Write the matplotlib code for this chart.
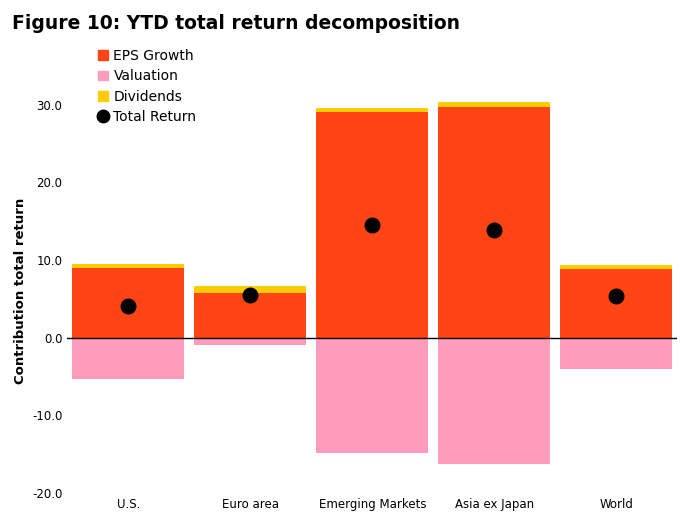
import numpy as np
import matplotlib.pyplot as plt
from matplotlib.lines import Line2D
from matplotlib.patches import Patch

regions = ['U.S.', 'Euro area', 'Emerging Markets', 'Asia ex Japan', 'World']
eps_growth = [9.0, 5.8, 29.0, 29.7, 8.8]
valuation = [-5.3, -1.0, -14.9, -16.3, -4.0]
dividends = [0.5, 0.8, 0.6, 0.7, 0.6]
total_return = [4.1, 5.5, 14.5, 13.9, 5.4]

c_eps = '#ff4513'
c_val = '#ff9bbb'
c_div = '#ffcc00'

fig = plt.figure(figsize=(6.8, 5.21), dpi=100)
ax = fig.add_axes([0.099, 0.054, 0.897, 0.775])
x = np.arange(len(regions))
w = 0.92
ax.bar(x, eps_growth, w, color=c_eps)
ax.bar(x, dividends, w, bottom=eps_growth, color=c_div)
ax.bar(x, valuation, w, color=c_val)
ax.scatter(x, total_return, s=110, color='black', zorder=5)
ax.axhline(0, color='black', lw=1)

ax.set_xlim(-0.5, 4.5)
ax.set_ylim(-20, 32)
ax.set_yticks([-20, -10, 0, 10, 20, 30])
ax.set_yticklabels([f'{v:.1f}' for v in [-20, -10, 0, 10, 20, 30]])
ax.set_xticks(x)
ax.set_xticklabels(regions)
ax.tick_params(length=0, labelsize=8.5)
for s in ax.spines.values():
    s.set_visible(False)
ax.set_ylabel('Contribution total return', fontweight='bold', fontsize=9.5)

handles = [Patch(color=c_eps, label='EPS Growth'),
           Patch(color=c_val, label='Valuation'),
           Patch(color=c_div, label='Dividends'),
           Line2D([], [], marker='o', color='black', ls='', markersize=9, label='Total Return')]
ax.legend(handles=handles, loc='upper left', bbox_to_anchor=(0.03, 1.13), frameon=False,
          fontsize=10, handlelength=0.7, handleheight=0.7, handletextpad=0.4, labelspacing=0.45)

fig.text(0.018, 0.955, 'Figure 10: YTD total return decomposition', fontsize=13.5,
         fontweight='bold', va='center')
fig.savefig('out.png')
